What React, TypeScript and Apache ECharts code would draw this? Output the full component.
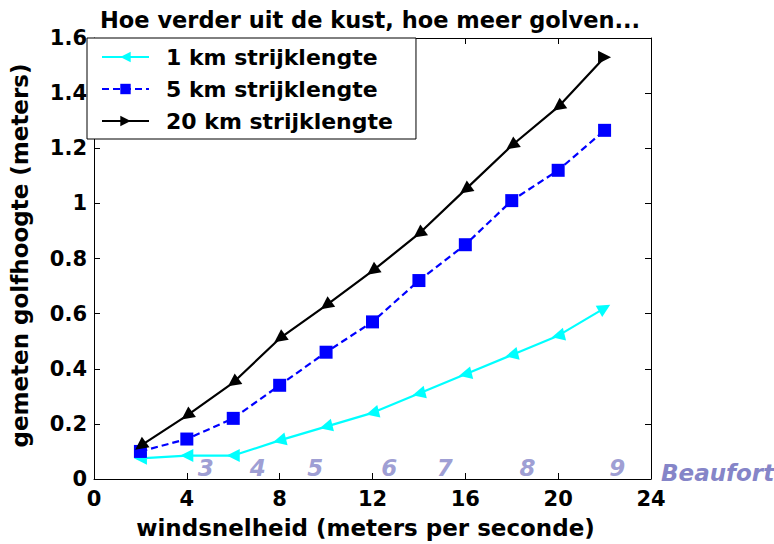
import React, { useEffect, useRef } from "react";
import * as echarts from "echarts";

const windSpeed = [2, 4, 6, 8, 10, 12, 14, 16, 18, 20, 22];
const fetch1km = [0.075, 0.085, 0.085, 0.14, 0.19, 0.24, 0.31, 0.38, 0.45, 0.52, 0.62];
const fetch5km = [0.1, 0.145, 0.22, 0.34, 0.46, 0.57, 0.72, 0.85, 1.01, 1.12, 1.265];
const fetch20km = [0.12, 0.23, 0.35, 0.51, 0.63, 0.755, 0.89, 1.05, 1.21, 1.35, 1.53];
const rot1km = [90, 90, 90, 104, 104, 104, 104, 104, 104, 104, -60];
const rot20km = [126, 126, 126, 126, 126, 126, 126, 126, 126, 126, -90];
const beaufortLabels = ["3", "4", "5", "6", "7", "8", "9"];
const beaufortX = [4.81, 7.06, 9.53, 12.72, 15.11, 18.68, 22.55];
const beaufortY = 0.04;

const FONT = "'DejaVu Sans', 'Liberation Sans', Arial, sans-serif";
const LAV = "#8585c8";

export default function App() {
  const ref = useRef<HTMLDivElement>(null);
  useEffect(() => {
    const chart = echarts.init(ref.current!, null, { renderer: "svg" });
    const mk = (vals: number[], rots?: number[]) =>
      vals.map((v, i) => (rots ? { value: [windSpeed[i], v], symbolRotate: rots[i] } : [windSpeed[i], v]));
    const axisCommon = {
      axisLine: { show: true, onZero: false, lineStyle: { color: "#000", width: 1 } },
      axisTick: { show: true, inside: true, length: 6, lineStyle: { color: "#000" } },
      splitLine: { show: false },
    };
    chart.setOption({
      animation: false,
      backgroundColor: "#fff",
      title: {
        text: "Hoe verder uit de kust, hoe meer golven...",
        left: 95,
        top: 3,
        textStyle: { fontFamily: FONT, fontWeight: "bold", fontSize: 22.5, color: "#000" },
      },
      legend: {
        left: 87,
        top: 38,
        orient: "vertical",
        backgroundColor: "#fff",
        borderColor: "#000",
        borderWidth: 1,
        borderRadius: 0,
        padding: [8, 23, 7, 14],
        itemGap: 10,
        itemWidth: 47,
        itemHeight: 13,
        z: 10,
        textStyle: { fontFamily: FONT, fontWeight: "bold", fontSize: 22, color: "#000", padding: [0, 0, 0, 12] },
        data: ["1 km strijklengte", "5 km strijklengte", "20 km strijklengte"],
      },
      grid: { left: 87, right: 123, top: 38, bottom: 60, containLabel: false },
      xAxis: [
        {
          type: "value",
          min: 0,
          max: 24,
          interval: 4,
          ...axisCommon,
          name: "windsnelheid (meters per seconde)",
          nameLocation: "middle",
          nameGap: 37,
          nameTextStyle: { fontFamily: FONT, fontWeight: "bold", fontSize: 23, color: "#000", padding: [0, 14, 0, 0] },
          axisLabel: { fontFamily: FONT, fontWeight: "bold", fontSize: 21, color: "#000", margin: 9 },
        },
        {
          type: "value",
          position: "top",
          min: 0,
          max: 24,
          interval: 4,
          ...axisCommon,
          axisLabel: { show: false },
        },
      ],
      yAxis: [
        {
          type: "value",
          min: 0,
          max: 1.6,
          interval: 0.2,
          ...axisCommon,
          name: "gemeten golfhoogte (meters)",
          nameLocation: "middle",
          nameGap: 63,
          nameTextStyle: { fontFamily: FONT, fontWeight: "bold", fontSize: 23, color: "#000", padding: [0, 0, 0, 6] },
          axisLabel: { fontFamily: FONT, fontWeight: "bold", fontSize: 21, color: "#000", margin: 7 },
        },
        {
          type: "value",
          position: "right",
          min: 0,
          max: 1.6,
          interval: 0.2,
          ...axisCommon,
          axisLabel: { show: false },
        },
      ],
      series: [
        {
          name: "1 km strijklengte",
          type: "line",
          data: mk(fetch1km, rot1km),
          symbol: "triangle",
          symbolSize: 13,
          symbolRotate: 90,
          lineStyle: { color: "#00ffff", width: 2.2 },
          itemStyle: { color: "#00ffff" },
          z: 3,
        },
        {
          name: "5 km strijklengte",
          type: "line",
          data: mk(fetch5km),
          symbol: "rect",
          symbolSize: 13,
          lineStyle: { color: "#0000ff", width: 2.2, type: [7, 4] },
          itemStyle: { color: "#0000ff" },
          z: 4,
        },
        {
          name: "20 km strijklengte",
          type: "line",
          data: mk(fetch20km, rot20km),
          symbol: "triangle",
          symbolSize: 13,
          symbolRotate: -90,
          lineStyle: { color: "#000", width: 2.2 },
          itemStyle: { color: "#000" },
          z: 5,
        },
        {
          name: "Beaufort",
          type: "scatter",
          data: beaufortX.map((x, i) => ({ value: [x, beaufortY], name: beaufortLabels[i] })),
          symbolSize: 0,
          silent: true,
          clip: false,
          label: {
            show: true,
            position: "inside",
            formatter: (p: any) => p.name,
            fontFamily: FONT,
            fontStyle: "italic",
            fontWeight: "bold",
            fontSize: 23,
            color: LAV,
          },
          z: 2,
        },
      ],
      graphic: [
        {
          type: "text",
          left: 661,
          top: 461,
          style: {
            text: "Beaufort",
            fontFamily: FONT,
            fontStyle: "italic",
            fontWeight: "bold",
            fontSize: 23,
            fill: LAV,
          },
        },
      ],
    });
    return () => chart.dispose();
  }, []);
  return <div ref={ref} style={{ width: 774, height: 544, position: "absolute", left: 0, top: 0 }} />;
}
